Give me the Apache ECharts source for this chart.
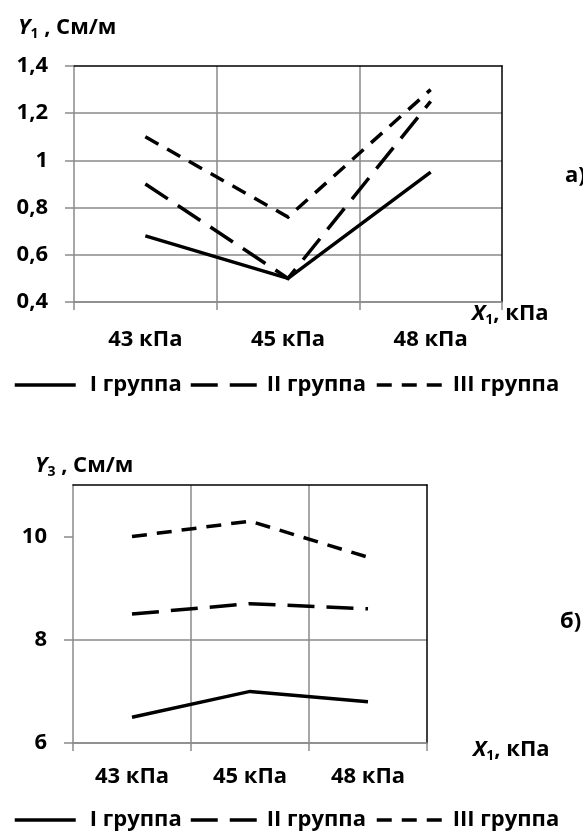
<!DOCTYPE html>
<html><head><meta charset="utf-8">
<script src="https://cdn.jsdelivr.net/npm/echarts@6/dist/echarts.min.js"></script>
<style>html,body{margin:0;padding:0;background:#fff}#c{width:583px;height:835px}</style>
</head><body><div id="c"></div>
<script>
// ---- data ----
const categories = ['43 кПа', '45 кПа', '48 кПа'];
const seriesNames = ['I группа', 'II группа', 'III группа'];
// chart а): Y1, См/м
const y1GroupI = [0.68, 0.50, 0.95];
const y1GroupII = [0.90, 0.50, 1.25];
const y1GroupIII = [1.10, 0.76, 1.30];
// chart б): Y3, См/м
const y3GroupI = [6.5, 7.0, 6.8];
const y3GroupII = [8.5, 8.7, 8.6];
const y3GroupIII = [10.0, 10.3, 9.6];
// axis ranges [min, max, interval]
const y1Range = [0.4, 1.4, 0.2];
const y3Range = [6, 11, 2];
const y3TickValues = [6, 8, 10];

// ---- styles ----
const FONT = '"Open Sans", "Noto Sans", sans-serif';
const GRID = '#8a8a8a';
const FS = 22;
const dashes = ['solid', [27, 12], [15, 10]];

const rich = {
  i: {fontFamily: FONT, fontSize: FS, fontWeight: 'bold', fontStyle: 'italic', color: '#000'},
  s: {fontFamily: FONT, fontSize: 14, fontWeight: 'bold', color: '#000', padding: [12, 0, 0, 0]},
  n: {fontFamily: FONT, fontSize: FS, fontWeight: 'bold', color: '#000'}
};
const labelStyle = {color: '#000', fontFamily: FONT, fontSize: FS, fontWeight: 'bold'};

function catAxis(g, margin) {
  return {
    gridIndex: g, type: 'category', data: categories, boundaryGap: true,
    axisLine: {show: true, lineStyle: {color: GRID, width: 1.5}},
    axisTick: {show: true, length: 8, lineStyle: {color: GRID, width: 1.5}},
    splitLine: {show: true, showMinLine: false, showMaxLine: false, lineStyle: {color: GRID, width: 1.5}},
    axisLabel: Object.assign({margin: margin}, labelStyle)
  };
}
function frameAxis(g, pos) {
  return {
    gridIndex: g, type: 'value', position: pos, min: 0, max: 1,
    axisLine: {show: true, onZero: false, lineStyle: {color: '#000', width: 1.5}},
    axisTick: {show: false}, axisLabel: {show: false}, splitLine: {show: false}
  };
}

const yAxis0 = {
  gridIndex: 0, type: 'value', min: y1Range[0], max: y1Range[1], interval: y1Range[2],
  axisLine: {show: true, lineStyle: {color: GRID, width: 1.5}},
  axisTick: {show: true, length: 9, lineStyle: {color: GRID, width: 1.5}},
  splitLine: {show: true, showMaxLine: false, lineStyle: {color: GRID, width: 1.5}},
  axisLabel: Object.assign({margin: 26, formatter: v => String(+v.toFixed(2)).replace('.', ',')}, labelStyle)
};
const yAxis2 = {
  gridIndex: 1, type: 'value', min: y3Range[0], max: y3Range[1], interval: y3Range[2],
  axisLine: {show: true, lineStyle: {color: GRID, width: 1.5}},
  axisTick: {show: true, length: 9, customValues: y3TickValues, lineStyle: {color: GRID, width: 1.5}},
  splitLine: {show: true, showMaxLine: false, lineStyle: {color: GRID, width: 1.5}},
  axisLabel: Object.assign({margin: 26, customValues: y3TickValues}, labelStyle)
};

function mkSeries(name, i, xi, yi, data) {
  return {
    type: 'line', name: name, xAxisIndex: xi, yAxisIndex: yi, data: data,
    symbol: 'none', silent: true, animation: false,
    lineStyle: {color: '#000', width: 3.5, type: dashes[i], cap: 'butt', join: 'miter'},
    itemStyle: {color: '#000'}
  };
}

function mkLegend(name, left, top, w, pad) {
  return {
    data: [name], left: left, top: top, itemWidth: w, itemHeight: 14, padding: 0,
    selectedMode: false,
    itemStyle: {color: 'rgba(0,0,0,0)', borderWidth: 0, opacity: 0},
    lineStyle: {width: 3.5},
    textStyle: {color: '#000', fontFamily: FONT, fontSize: FS, fontWeight: 'bold', padding: [0, 0, 0, pad]}
  };
}
function mkTitle(text, left, top) {
  return {text: text, left: left, top: top, padding: 0, textStyle: {rich: rich, fontFamily: FONT, fontSize: FS, fontWeight: 'bold', color: '#000'}};
}

const option = {
  animation: false,
  backgroundColor: '#fff',
  title: [
    mkTitle('{i|Y}{s|1}{n| , См/м}', 18, 15),
    mkTitle('{i|X}{s|1}{n|, кПа}', 472, 301),
    mkTitle('{n|а)}', 565, 165),
    mkTitle('{i|Y}{s|3}{n| , См/м}', 35, 453),
    mkTitle('{i|X}{s|1}{n|, кПа}', 473, 737),
    mkTitle('{n|б)}', 560, 611)
  ],
  legend: [
    mkLegend(seriesNames[0], 13, 374, 61, 9),
    mkLegend(seriesNames[1], 189, 374, 70, 1),
    mkLegend(seriesNames[2], 375, 374, 69, 2),
    mkLegend(seriesNames[0], 13, 809, 61, 9),
    mkLegend(seriesNames[1], 189, 809, 70, 1),
    mkLegend(seriesNames[2], 375, 809, 69, 2)
  ],
  grid: [
    {left: 74, top: 66, width: 428, height: 236},
    {left: 73, top: 485, width: 354, height: 258}
  ],
  xAxis: [catAxis(0, 27), frameAxis(0, 'top'), catAxis(1, 23), frameAxis(1, 'top')],
  yAxis: [yAxis0, frameAxis(0, 'right'), yAxis2, frameAxis(1, 'right')],
  series: [
    mkSeries(seriesNames[0], 0, 0, 0, y1GroupI),
    mkSeries(seriesNames[1], 1, 0, 0, y1GroupII),
    mkSeries(seriesNames[2], 2, 0, 0, y1GroupIII),
    mkSeries(seriesNames[0], 0, 2, 2, y3GroupI),
    mkSeries(seriesNames[1], 1, 2, 2, y3GroupII),
    mkSeries(seriesNames[2], 2, 2, 2, y3GroupIII)
  ]
};
const chart = echarts.init(document.getElementById('c'), null, {renderer: 'canvas'});
chart.setOption(option);
</script>
</body></html>
